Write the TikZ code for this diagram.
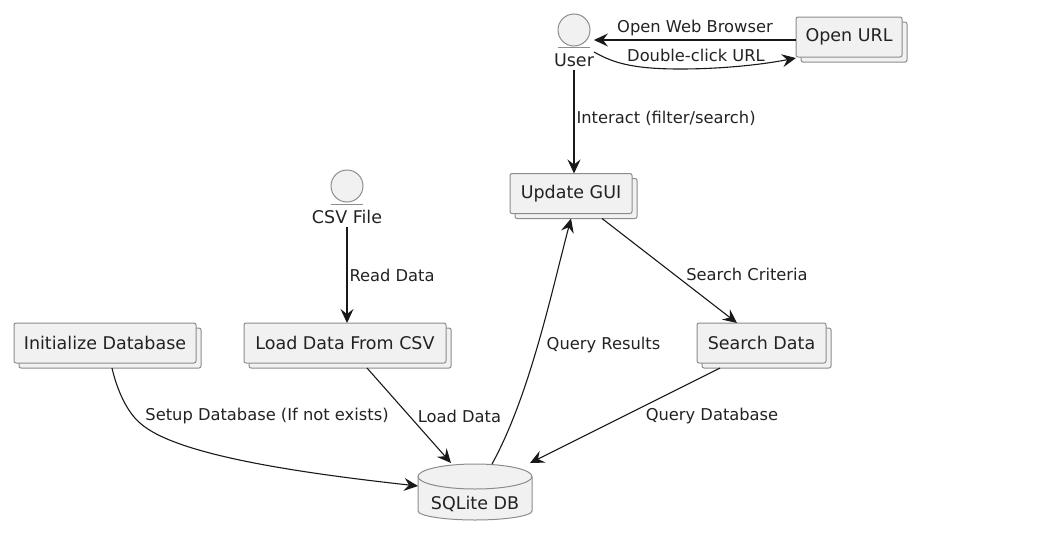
\documentclass[tikz,border=0pt]{standalone}
\usepackage{fontspec}
\setmainfont{DejaVu Sans}
\usetikzlibrary{positioning, arrows.meta, shadows}
\definecolor{boxfill}{HTML}{F1F1F1}
\definecolor{boxline}{HTML}{8C8C8C}
\definecolor{inktext}{HTML}{222222}
\tikzset{
  flow/.style={
	->,  % every connector is directed
	>={Stealth[length=14pt, width=13pt, inset=5pt]},
	line width=1.1pt, draw=black!90,
  },
  edgetext/.style={text=inktext, font=\fontsize{16.3}{19}\selectfont, inner sep=0pt},
  stackbox/.style={
	draw=boxline, fill=boxfill, line width=1pt, rounded corners=2pt,
	text=inktext, font=\fontsize{17.5}{20}\selectfont,
	minimum height=40pt, inner sep=0pt, outer sep=0pt,
	copy shadow={shadow xshift=5pt, shadow yshift=-5pt},
  },
  actorhead/.style={circle, draw=boxline, fill=boxfill, line width=1pt, minimum size=32pt, inner sep=0pt, outer sep=0pt},
  actortext/.style={text=inktext, font=\fontsize{17.5}{20}\selectfont, inner xsep=0pt, inner ysep=0pt, text height=19pt, text depth=4pt, outer sep=0pt},
  actorline/.style={draw=boxline, line width=1pt},
  dbshape/.style={draw=boxline, fill=boxfill, line width=1pt},
}
\begin{document}
\begin{tikzpicture}[x=1pt, y=-1pt, node distance=40pt]
	\useasboundingbox (0,0) rectangle (1056,541);

	\node[actortext] at (574,58.5) (user) {User};
	\node[actorhead, above of=user, yshift=-11.5pt] (userhead) {};
	\draw[actorline] (userhead.west |- user.north) -- (userhead.east |- user.north);
	\node[stackbox, minimum width=106pt, right of=user, xshift=235pt, yshift=21.5pt] (openurl) {Open URL};
	\node[stackbox, minimum width=122pt, below of=user, xshift=-3pt, yshift=-95pt] (gui) {Update GUI};
	\node[stackbox, minimum width=129pt, below of=gui, xshift=190.5pt, yshift=-109.5pt] (search) {Search Data};

	\node[actortext, left of=gui, xshift=-184pt, yshift=-22pt] (csv) {CSV File};
	\node[actorhead, above of=csv, yshift=-10.5pt] (csvhead) {};
	\draw[actorline] (csvhead.west |- csv.north) -- (csvhead.east |- csv.north);
	\node[stackbox, minimum width=202pt, below of=csv, xshift=-2pt, yshift=-87.5pt] (load) {Load Data From CSV};
	\node[stackbox, minimum width=182pt, left of=load, xshift=-200pt] (init) {Initialize Database};

	% database, drawn by hand because the lower bulge is flatter than the top
	\path[dbshape] (418,477) -- (418,511) .. controls (418,516) and (445,520) .. (475,520) .. controls (505,520) and (532,516) .. (532,511) -- (532,477) -- cycle;
	\path[dbshape] (475,476.5) ellipse[x radius=57pt, y radius=12.5pt];
	\node[edgetext, font=\fontsize{17.5}{20}\selectfont] at (475,504) (db) {SQLite DB};
	\coordinate (dbleft) at (418,486);
	\coordinate (dbtop) at (451,463);
	\coordinate (dbright) at (530,463);
	\coordinate (dbout) at (492,464);

	\coordinate (userin) at ([yshift=7pt]user.north east);
	\coordinate (userout) at ([yshift=-5pt]user.north east);

	\draw[flow] (openurl.west |- userin) -- node[edgetext, above=3.5pt] {Open Web Browser} (userin);
	\draw[flow] (userout) .. controls (612,62) and (630,69) .. (680,69) .. controls (720,69) and (760,65) .. ([yshift=-1pt]openurl.south west)
		node[edgetext] at (696,55) {Double-click URL};
	\draw[flow] (user.south) -- node[edgetext, right=2pt, yshift=3.5pt] {Interact (filter/search)} (user.south |- gui.north);
	\draw[flow] (csv.south) -- node[edgetext, right=2pt] {Read Data} (csv.south |- load.north);
	\draw[flow] (init.south) ++(7,5) .. controls (117,390) and (127,412) .. (140,423) .. controls (175,455) and (300,473) .. (dbleft)
		node[edgetext] at (267,416) {Setup Database (If not exists)};
	\draw[flow] ([xshift=22pt,yshift=-5pt]load.south) -- (dbtop)
		node[edgetext] at (459.5,416) {Load Data};
	\draw[flow] (dbout) .. controls (530,395) and (552,290) .. ([yshift=-5pt]gui.south)
		node[edgetext] at (603.5,345) {Query Results};
	\draw[flow] ([xshift=31pt,yshift=-5pt]gui.south) -- ([xshift=-24.5pt]search.north)
		node[edgetext] at (747,274) {Search Criteria};
	\draw[flow] ([xshift=-41.5pt,yshift=-5pt]search.south) -- (dbright)
		node[edgetext] at (712,416) {Query Database};
\end{tikzpicture}
\end{document}
